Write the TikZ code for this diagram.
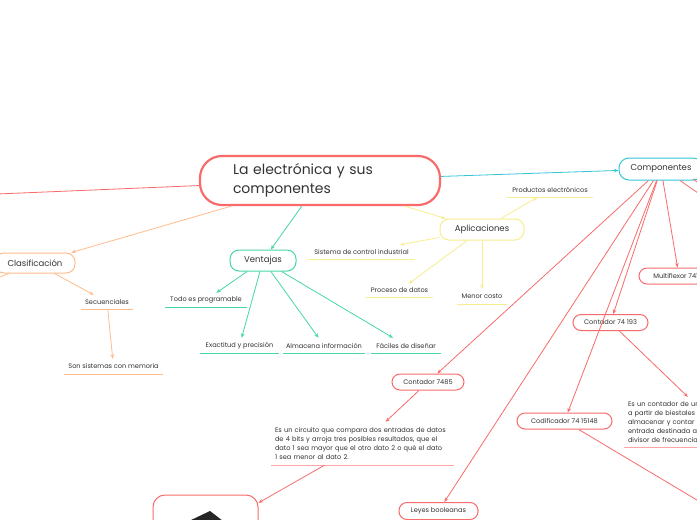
\documentclass[tikz,border=0pt]{standalone}
\usepackage{fontspec}
\setmainfont{Poppins}
\usetikzlibrary{arrows.meta}
\definecolor{cred}{HTML}{F96B6B}
\definecolor{credl}{HTML}{FFA5A5}
\definecolor{corange}{HTML}{FFBC8C}
\definecolor{cmint}{HTML}{47D6A6}
\definecolor{ccyan}{HTML}{35C6D6}
\definecolor{cyel}{HTML}{F7EE8E}
\definecolor{ctext}{HTML}{333333}
\tikzset{
  box/.style={draw, rounded corners=8pt, line width=1pt, text=ctext, fill=white,
    font=\fontsize{6.6}{8}\selectfont, inner sep=0pt},
  midbox/.style={box, font=\fontsize{8.5}{10}\selectfont},
  ultext/.style={inner sep=0pt, text=ctext, font=\fontsize{6.6}{8}\selectfont},
  desc/.style={inner xsep=4pt, inner ysep=0pt, text=ctext, align=left,
    font=\fontsize{6.6}{9}\selectfont},
  conn/.style={line width=0.8pt, -{Stealth[length=4.5pt,width=3.6pt]}},
  plainconn/.style={line width=0.8pt},
  uline/.style={line width=1.3pt}
}
\begin{document}
\begin{tikzpicture}[x=1pt,y=-1pt]
\useasboundingbox (0,0) rectangle (697,520);
\clip (0,0) rectangle (697,520);
\fill[white] (0,0) rectangle (697,520);

% ---- nodes ----
\node[box, draw=cred, line width=2.2pt, rounded corners=22pt, minimum height=49pt,
  text width=174pt, inner xsep=33pt, align=left,
  font=\fontsize{14}{19}\selectfont] (main) at (320,180.5) {La electrónica y sus\\componentes};

\node[midbox, draw=corange, minimum width=80pt, minimum height=20pt, rounded corners=9pt] (clas) at (35,263) {Clasificación};
\node[midbox, draw=cmint, minimum width=66pt, minimum height=21pt, rounded corners=9pt] (vent) at (263,260.5) {Ventajas};
\node[midbox, draw=cyel, minimum width=84pt, minimum height=21pt, rounded corners=9pt] (apl) at (482,229.5) {Aplicaciones};
\node[midbox, draw=ccyan, minimum width=84pt, minimum height=22pt, rounded corners=10pt] (comp) at (661,169) {Componentes};

\node[box, draw=cred, minimum width=80pt, minimum height=16pt] (multi) at (679,276) {Multiflexor 74151};
\node[box, draw=cred, minimum width=75pt, minimum height=16pt] (c193) at (610.5,322.5) {Contador 74 193};
\node[box, draw=cred, minimum width=95pt, minimum height=16pt] (cod) at (564.5,421) {Codificador 74 15148};
\node[box, draw=cred, minimum width=72pt, minimum height=16pt] (c7485) at (428,382) {Contador 7485};
\node[box, draw=cred, minimum width=79pt, minimum height=17pt] (leyes) at (438.5,511) {Leyes booleanas};
\node[box, draw=cred, minimum width=105pt, minimum height=76pt, rounded corners=12pt] (img) at (205.5,533) {};
\fill[black!85] (189,521) -- (210,511) -- (223,521) -- cycle;

% underlined text nodes
\node[ultext, minimum width=82pt, minimum height=14pt] (prog) at (206,300) {Todo es programable};
\node[ultext, minimum width=79pt, minimum height=15pt] (exac) at (239.5,345.5) {Exactitud y precisión};
\node[ultext, minimum width=82pt, minimum height=15pt] (alma) at (324,345.5) {Almacena información};
\node[ultext, minimum width=70pt, minimum height=15pt] (faci) at (406,345.5) {Fáciles de diseñar};
\node[ultext, minimum width=86pt, minimum height=14pt] (prod) at (550,190) {Productos electrónicos};
\node[ultext, minimum width=107pt, minimum height=14pt] (sist) at (361.5,252) {Sistema de control industrial};
\node[ultext, minimum width=67pt, minimum height=13pt] (proc) at (399.5,290.5) {Proceso de datos};
\node[ultext, minimum width=50pt, minimum height=15pt] (meno) at (482,296.5) {Menor costo};
\node[ultext, minimum width=52pt, minimum height=14pt] (secu) at (107,302) {Secuenciales};
\node[ultext, minimum width=99pt, minimum height=15pt] (memo) at (113.5,366.5) {Son sistemas con memoria};

\node[desc, text width=175pt, minimum height=43pt] (d7485) at (362.5,443.5)
  {Es un circuito que compara dos entradas de datos\\
   de 4 bits y arroja tres posibles resultados, que el\\
   dato 1 sea mayor que el otro dato 2 o qué el dato\\
   1 sea menor al dato 2.};
\node[desc, text width=172pt, minimum height=50pt] (d193) at (714,422)
  {Es un contador de unidades\\
   a partir de biestales capaces de\\
   almacenar y contar los pulsos de\\
   entrada destinada a funcionar como\\
   divisor de frecuencia.};

% underlines
\foreach \n in {prog,exac,alma,faci} \draw[uline, cmint] (\n.south west) -- (\n.south east);
\foreach \n in {prod,sist,proc,meno} \draw[uline, cyel] (\n.south west) -- (\n.south east);
\foreach \n in {secu,memo} \draw[uline, corange] (\n.south west) -- (\n.south east);
\foreach \n in {d7485,d193} \draw[uline, credl] (\n.south west) -- (\n.south east);

% off-canvas coordinates
\coordinate (offL) at (-60,196.4);
\coordinate (offC) at (-40,293);
\coordinate (cA) at (680,180.5);
\coordinate (offR1) at (760,236);
\coordinate (cB) at (693,179);
\coordinate (offR2) at (760,229);
\coordinate (offR3) at (800,561.5);
\coordinate (offB) at (480,560);

% ---- connectors ----
\draw[plainconn, cred] (main) -- (offL);
\draw[conn, corange] (main) -- (clas);
\draw[conn, cmint] (main) -- (vent);
\draw[conn, cyel] (main) -- (apl);
\draw[conn, ccyan] (main) -- (comp);

\draw[plainconn, corange] (clas) -- (offC);
\draw[conn, corange] (clas) -- (secu);
\draw[conn, corange] (secu) -- (memo);

\foreach \n in {prog,exac,alma,faci} \draw[conn, cmint] (vent) -- (\n);
\foreach \n in {prod,sist,proc,meno} \draw[conn, cyel] (apl) -- (\n);

\foreach \n in {c7485,leyes,cod,c193,multi} \draw[conn, cred] (comp) -- (\n);
\draw[plainconn, cred] (cA) -- (offR1);
\draw[plainconn, cred] (cB) -- (offR2);

\draw[conn, cred] (c193) -- (d193);
\draw[plainconn, cred] (cod) -- (offR3);
\draw[conn, cred] (c7485) -- (d7485);
\draw[conn, cred] (d7485) -- (img);
\draw[plainconn, cred] (leyes) -- (offB);
\end{tikzpicture}
\end{document}
